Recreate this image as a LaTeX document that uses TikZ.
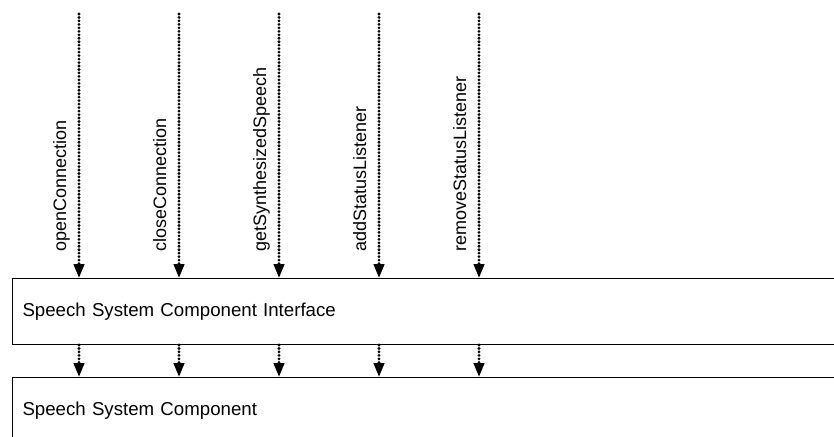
\documentclass[tikz,border=0pt]{standalone}
\usepackage{fontspec}
\setmainfont{Liberation Sans}
\usetikzlibrary{arrows.meta, positioning}

\begin{document}
\begin{tikzpicture}[x=0.75pt, y=-0.75pt,
  layerbox/.style={draw, line width=0.75pt, anchor=north west, minimum height=49.5pt,
                   text width=621pt, inner xsep=7.5pt, align=left,
                   font=\fontsize{14}{16}\selectfont},
  call/.style={line width=2.3pt, dash pattern=on 0pt off 2.6pt, line cap=round,
               -{Triangle[width=7.8pt, length=10.5pt]}},
  method/.style={rotate=90, anchor=base west, inner sep=0pt,
                 font=\fontsize{13.5}{16}\selectfont},
]
\useasboundingbox (0,0) rectangle (834,436);
\clip (0,0) rectangle (834,436);

% Layers
\node[layerbox] (iface) at (12,278) {Speech System Component Interface};
\node[layerbox] (comp) at (12,377) {Speech System Component};

% Method entry points
\coordinate (open) at (79,14);
\coordinate (close) at (179,14);
\coordinate (synth) at (279,14);
\coordinate (addl) at (379,14);
\coordinate (reml) at (479,14);

\node[method] (lopen) at (66,252) {openConnection};
\node[method] (lclose) at (166,252) {closeConnection};
\node[method] (lsynth) at (266,252) {getSynthesizedSpeech};
\node[method] (laddl) at (366,252) {addStatusListener};
\node[method] (lreml) at (466,252) {removeStatusListener};

% Calls into the interface
\draw[call] (open) -- (open |- iface.north);
\draw[call] (close) -- (close |- iface.north);
\draw[call] (synth) -- (synth |- iface.north);
\draw[call] (addl) -- (addl |- iface.north);
\draw[call] (reml) -- (reml |- iface.north);

% Forwarded to the component
\draw[call] (open |- iface.south) -- (open |- comp.north);
\draw[call] (close |- iface.south) -- (close |- comp.north);
\draw[call] (synth |- iface.south) -- (synth |- comp.north);
\draw[call] (addl |- iface.south) -- (addl |- comp.north);
\draw[call] (reml |- iface.south) -- (reml |- comp.north);
\end{tikzpicture}
\end{document}
